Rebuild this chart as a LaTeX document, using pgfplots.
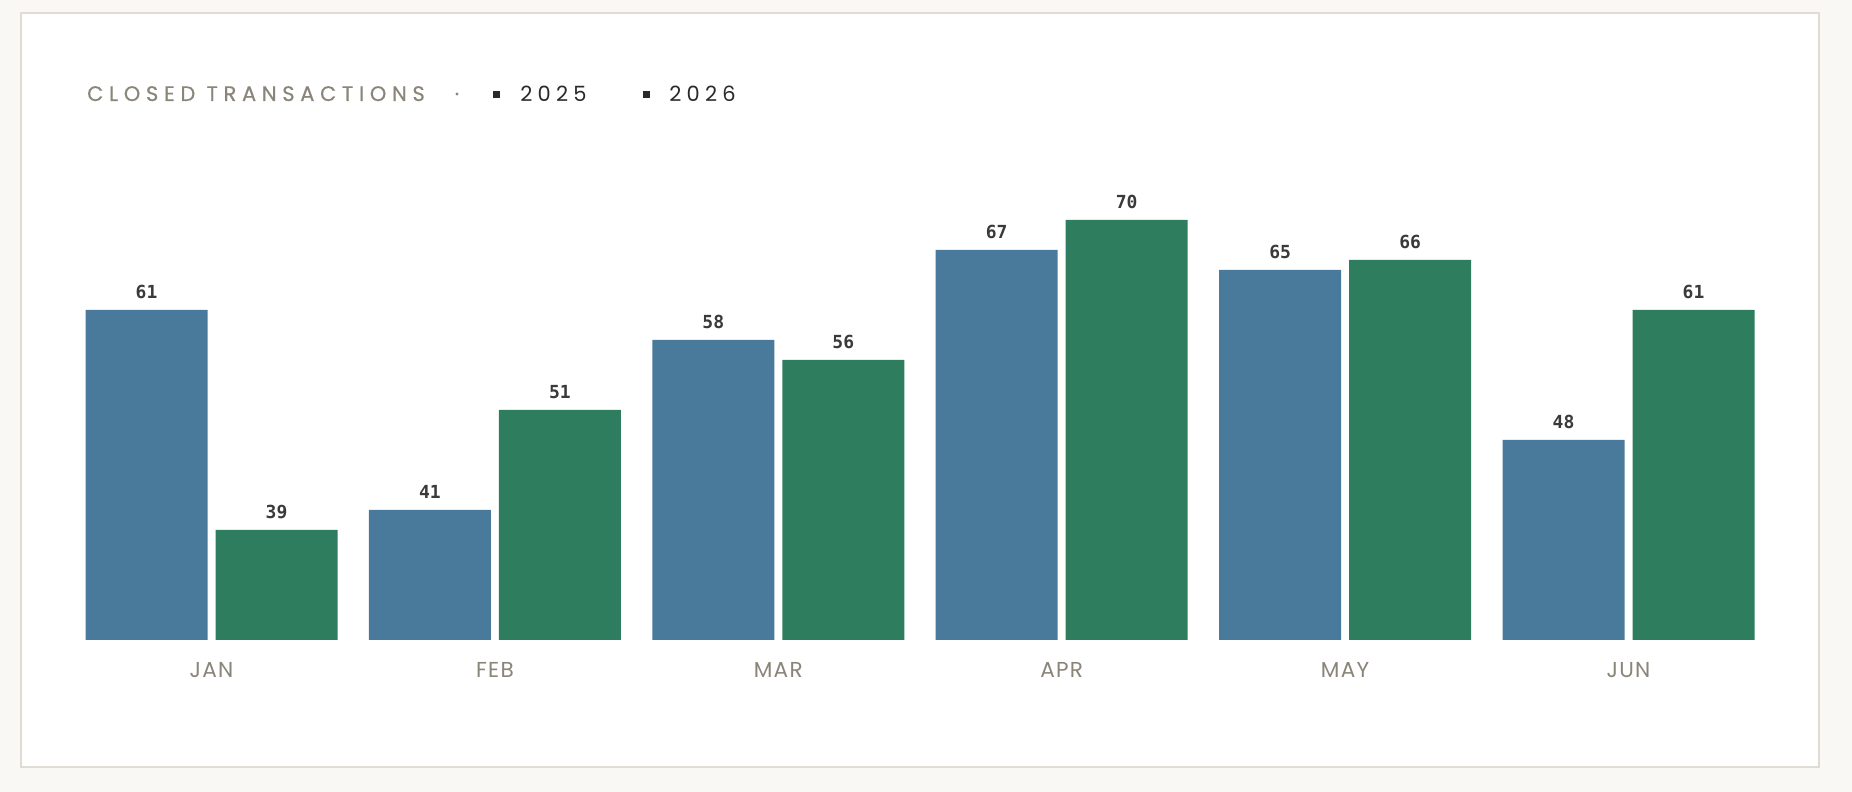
\documentclass[border=0pt]{standalone}
\usepackage{pgfplots}
\pgfplotsset{compat=1.18}
\usepackage{fontspec}
\setmainfont{Poppins}
\newfontfamily\titlefont[LetterSpace=27,FakeBold=0.4]{Poppins}
\newfontfamily\legfont[LetterSpace=25]{Poppins}
\newfontfamily\monthfont[LetterSpace=6]{Poppins}
\newfontfamily\valfont{DejaVu Sans Mono}
\definecolor{bgc}{HTML}{F9F8F4}
\definecolor{cardb}{HTML}{E0DCD3}
\definecolor{c2025}{HTML}{4A7A9B}
\definecolor{c2026}{HTML}{2E7D5E}
\definecolor{graytxt}{HTML}{8A8579}
\definecolor{valc}{HTML}{3A3A3A}
\definecolor{legc}{HTML}{2A2A2A}
\begin{document}
\begin{tikzpicture}
\fill[bgc] (0,0) rectangle (926pt,396pt);
\filldraw[fill=white, draw=cardb, line width=1pt] (10.5pt,12.5pt) rectangle (909.5pt,389.5pt);
% title and legend
\node[anchor=base west, inner sep=0pt, text=graytxt, font=\titlefont\fontsize{10.5}{10.5}\selectfont] at (43.4pt,345.5pt) {CLOSED TRANSACTIONS};
\fill[graytxt] (228.5pt,349pt) circle (0.8pt);
\fill[legc] (246.5pt,346.75pt) rectangle (250pt,350.25pt);
\node[anchor=base west, inner sep=0pt, text=legc, font=\legfont\fontsize{10.5}{10.5}\selectfont] at (260pt,345pt) {2025};
\fill[legc] (321.5pt,346.75pt) rectangle (325pt,350.25pt);
\node[anchor=base west, inner sep=0pt, text=legc, font=\legfont\fontsize{10.5}{10.5}\selectfont] at (334.5pt,345pt) {2026};
\begin{axis}[
  at={(34.9pt,76pt)}, anchor=south west,
  scale only axis, width=850.2pt, height=250pt,
  xmin=-0.5, xmax=5.5, ymin=28, ymax=78,
  ybar=4pt, bar width=61pt,
  clip=false,
  axis line style={draw=none},
  tick style={draw=none}, major tick length=0pt,
  ytick=\empty,
  xtick={0,1,2,3,4,5},
  xticklabels={JAN,FEB,MAR,APR,MAY,JUN},
  xticklabel style={font=\monthfont\fontsize{10.8}{10.8}\selectfont, text=graytxt, anchor=base, yshift=-19pt},
  /pgf/number format/assume math mode=true,
  nodes near coords={\pgfmathprintnumber{\pgfplotspointmeta}},
  every node near coord/.append style={font=\valfont\bfseries\fontsize{9}{9}\selectfont, text=valc, anchor=base, yshift=5.5pt, inner sep=0pt},
]
\addplot[draw=none, fill=c2025] coordinates {(0,61) (1,41) (2,58) (3,67) (4,65) (5,48)};
\addplot[draw=none, fill=c2026] coordinates {(0,39) (1,51) (2,56) (3,70) (4,66) (5,61)};
\end{axis}
\end{tikzpicture}
\end{document}
